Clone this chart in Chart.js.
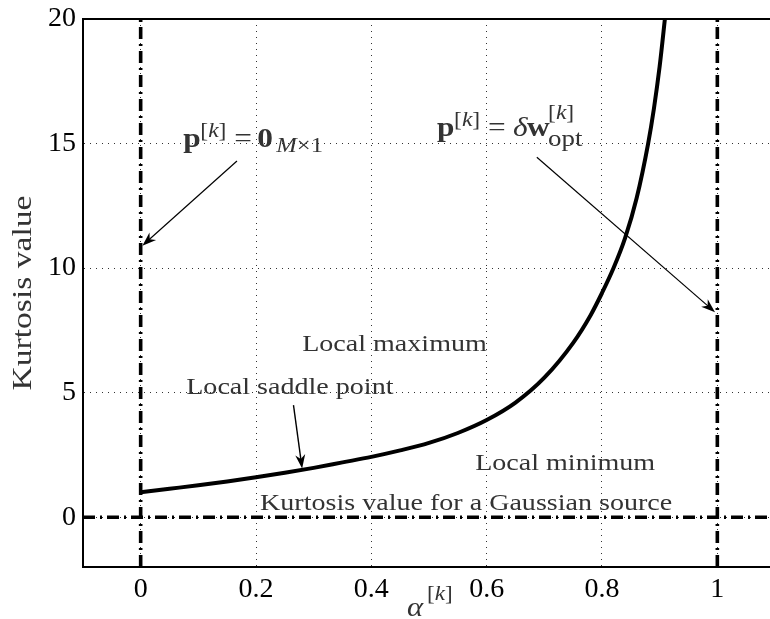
<!DOCTYPE html>
<html>
<head>
<meta charset="utf-8">
<script src="https://cdn.jsdelivr.net/npm/chart.js@4/dist/chart.umd.min.js"></script>
<style>
  html, body { margin: 0; padding: 0; background: #fff; overflow: hidden; }
  canvas { display: block; }
</style>
</head>
<body>
<canvas id="kurtosisChart" width="790" height="619"></canvas>
<script>
// Kurtosis curve
const alpha = [0, 0.05, 0.1, 0.15, 0.2, 0.25, 0.3, 0.35, 0.4, 0.45, 0.5, 0.55,
    0.6, 0.65, 0.7, 0.75, 0.78, 0.8, 0.82, 0.84, 0.86, 0.88, 0.89, 0.9, 0.91];
const kurtosis = [1.0, 1.14, 1.28, 1.43, 1.6, 1.78, 1.98, 2.2, 2.42, 2.68, 2.98, 3.38,
    3.9, 4.6, 5.6, 7.0, 8.1, 9.0, 10.0, 11.2, 12.8, 15.0, 16.4, 18.1, 20.2];

// Boundary cases and Gaussian reference
const boundaryAlpha = [0, 1];
const gaussianKurtosis = 0;

// Axes
const xRange = [-0.1, 1.1];
const yRange = [-2, 20];
const xTicks = [0, 0.2, 0.4, 0.6, 0.8, 1];
const yTicks = [0, 5, 10, 15, 20];

const serif = '"Liberation Serif", "Times New Roman", serif';
const textGray = '#333';
const dashDot = [12, 5, 2, 5];

// Text labels (data coordinates)
const labels = [
    { text: 'Local maximum', x: 0.28, y: 6.69 },
    { text: 'Local saddle point', x: 0.079, y: 4.93 },
    { text: 'Local minimum', x: 0.58, y: 1.88 },
    { text: 'Kurtosis value for a Gaussian source', x: 0.207, y: 0.27 }
];

// Arrows: from -> to (data coordinates)
const arrows = [
    { from: [0.167, 14.3], to: [0.003, 10.9], width: 1.2 },
    { from: [0.687, 14.45], to: [0.996, 8.23], width: 1.2 },
    { from: [0.265, 4.5], to: [0.28, 1.95], width: 1.4 }
];

// Math expressions built from pieces
const bold = (s) => 'bold ' + s + 'px ' + serif;
const ital = (s) => 'italic ' + s + 'px ' + serif;
const reg = (s) => s + 'px ' + serif;
const formulas = [
    { x: 0.074, y: 14.85, parts: [
        { t: 'p', font: bold(28), at: 0 },
        { t: '[', font: reg(21), at: 17, dy: -10 },
        { t: 'k', font: ital(21), dy: -10 },
        { t: ']', font: reg(21), dy: -10 },
        { t: '=', font: reg(28), at: 51 },
        { t: '0', font: bold(28), at: 74 },
        { t: 'M', font: ital(22), at: 93, dy: 5 },
        { t: '\u00d71', font: reg(22), dy: 5 }
    ]},
    { x: 0.514, y: 15.32, parts: [
        { t: 'p', font: bold(28), at: 0 },
        { t: '[', font: reg(21), at: 17, dy: -10 },
        { t: 'k', font: ital(21), dy: -10 },
        { t: ']', font: reg(21), dy: -10 },
        { t: '=', font: reg(28), at: 51 },
        { t: '\u03b4', font: ital(28), at: 76 },
        { t: 'w', font: bold(28), at: 90 },
        { t: '[', font: reg(21), at: 111, dy: -17 },
        { t: 'k', font: ital(21), dy: -17 },
        { t: ']', font: reg(21), dy: -17 },
        { t: 'opt', font: reg(24), at: 111, dy: 10 }
    ]}
];

function drawParts(ctx, x0, y0, parts, sx) {
    let cx = 0;
    parts.forEach(p => {
        if (p.at !== undefined) cx = p.at;
        ctx.font = p.font;
        ctx.save();
        ctx.translate(x0 + cx, y0 + (p.dy || 0));
        ctx.scale(sx, 1);
        ctx.fillText(p.t, 0, 0);
        ctx.restore();
        cx += ctx.measureText(p.t).width * sx;
    });
}

function drawStretched(ctx, text, x, y, size, sx) {
    ctx.font = reg(size);
    ctx.save();
    ctx.translate(x, y);
    ctx.scale(sx, 1);
    ctx.fillText(text, 0, 0);
    ctx.restore();
}

function drawArrow(ctx, x1, y1, x2, y2, w) {
    const ang = Math.atan2(y2 - y1, x2 - x1);
    const len = 14, half = 5;
    ctx.save();
    ctx.strokeStyle = '#000';
    ctx.fillStyle = '#000';
    ctx.lineWidth = w;
    ctx.beginPath();
    ctx.moveTo(x1, y1);
    ctx.lineTo(x2 - Math.cos(ang) * len * 0.6, y2 - Math.sin(ang) * len * 0.6);
    ctx.stroke();
    ctx.translate(x2, y2);
    ctx.rotate(ang);
    ctx.beginPath();
    ctx.moveTo(0, 0);
    ctx.lineTo(-len, -half);
    ctx.lineTo(-len * 0.7, 0);
    ctx.lineTo(-len, half);
    ctx.closePath();
    ctx.fill();
    ctx.restore();
}

const annotationPlugin = {
    id: 'annotations',
    afterDraw(chart) {
        const { ctx, chartArea: area, scales } = chart;
        const xs = scales.x, ys = scales.y;

        // top and right frame
        ctx.save();
        ctx.strokeStyle = '#000';
        ctx.lineWidth = 2;
        ctx.beginPath();
        ctx.moveTo(area.left, area.top);
        ctx.lineTo(area.right, area.top);
        ctx.lineTo(area.right, area.bottom);
        ctx.stroke();
        ctx.restore();

        ctx.save();
        ctx.fillStyle = textGray;
        ctx.textBaseline = 'alphabetic';
        ctx.textAlign = 'left';

        labels.forEach(l => {
            drawStretched(ctx, l.text, xs.getPixelForValue(l.x), ys.getPixelForValue(l.y), 23, 1.22);
        });

        formulas.forEach(f => {
            drawParts(ctx, xs.getPixelForValue(f.x), ys.getPixelForValue(f.y), f.parts, 1.12);
        });

        // y axis title
        ctx.save();
        ctx.translate(31, (area.top + area.bottom) / 2);
        ctx.rotate(-Math.PI / 2);
        ctx.textAlign = 'center';
        ctx.font = reg(28);
        ctx.scale(1.2, 1);
        ctx.fillText('Kurtosis value', 0, 0);
        ctx.restore();

        // x axis title: alpha^[k]
        drawParts(ctx, (area.left + area.right) / 2 - 22, 616, [
            { t: '\u03b1', font: ital(28), at: 0 },
            { t: '[', font: reg(21), at: 20, dy: -16 },
            { t: 'k', font: ital(21), dy: -16 },
            { t: ']', font: reg(21), dy: -16 }
        ], 1.1);
        ctx.restore();

        arrows.forEach(a => {
            drawArrow(ctx,
                xs.getPixelForValue(a.from[0]), ys.getPixelForValue(a.from[1]),
                xs.getPixelForValue(a.to[0]), ys.getPixelForValue(a.to[1]), a.width);
        });
    }
};

const curveData = alpha.map((a, i) => ({ x: a, y: kurtosis[i] }));
const boundaryData = boundaryAlpha.map(a => [{ x: a, y: yRange[0] }, { x: a, y: yRange[1] }]);
const gaussianData = [{ x: xRange[0], y: gaussianKurtosis }, { x: xRange[1], y: gaussianKurtosis }];

const dashedLine = (data) => ({
    data: data,
    borderColor: '#000',
    borderWidth: 3.6,
    borderDash: dashDot,
    pointRadius: 0,
    fill: false,
    clip: 0
});

new Chart(document.getElementById('kurtosisChart'), {
    type: 'line',
    data: {
        datasets: [
            dashedLine(boundaryData[0]),
            dashedLine(boundaryData[1]),
            dashedLine(gaussianData),
            {
                data: curveData,
                borderColor: '#000',
                borderWidth: 4,
                pointRadius: 0,
                cubicInterpolationMode: 'monotone',
                fill: false,
                clip: 0
            }
        ]
    },
    options: {
        responsive: false,
        animation: false,
        devicePixelRatio: 1,
        layout: { padding: { top: 19, right: 15, left: 0, bottom: 0 } },
        plugins: {
            legend: { display: false },
            tooltip: { enabled: false }
        },
        scales: {
            x: {
                type: 'linear',
                min: xRange[0],
                max: xRange[1],
                afterBuildTicks: (s) => { s.ticks = xTicks.map(v => ({ value: v })); },
                afterFit: (s) => {
                    s.height = 52;
                    s.paddingLeft = 0; s.paddingRight = 0;
                },
                ticks: {
                    color: '#000',
                    padding: 6,
                    maxRotation: 0,
                    font: { family: serif, size: 28 },
                    callback: (v) => String(v)
                },
                grid: { color: '#333', lineWidth: 1, drawTicks: false },
                border: { display: true, color: '#000', width: 2, dash: [1, 5] }
            },
            y: {
                min: yRange[0],
                max: yRange[1],
                afterBuildTicks: (s) => { s.ticks = yTicks.map(v => ({ value: v })); },
                afterFit: (s) => {
                    s.width = 83;
                    s.paddingTop = 0; s.paddingBottom = 0;
                },
                ticks: {
                    color: '#000',
                    padding: 7,
                    font: { family: serif, size: 28 },
                    callback: (v) => String(v)
                },
                grid: { color: '#333', lineWidth: 1, drawTicks: false },
                border: { display: true, color: '#000', width: 2, dash: [1, 5] }
            }
        }
    },
    plugins: [annotationPlugin]
});
</script>
</body>
</html>
